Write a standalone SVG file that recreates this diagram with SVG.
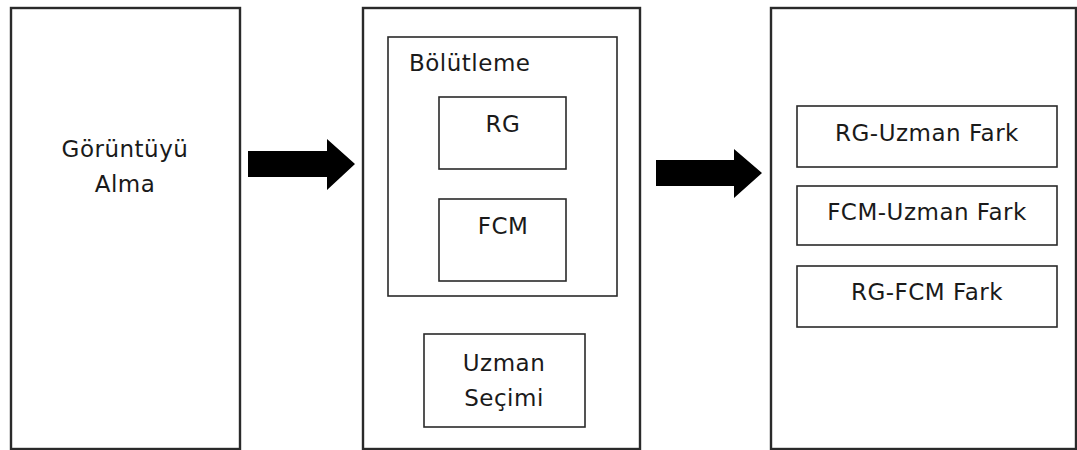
<svg xmlns="http://www.w3.org/2000/svg" width="1077" height="450" viewBox="0 0 1077 450">
  <style>
    .box { fill: #ffffff; stroke: #2a2a2a; stroke-width: 2.4; }
    .inner { fill: #ffffff; stroke: #2a2a2a; stroke-width: 1.6; }
    .label { font-family: "DejaVu Sans", Verdana, sans-serif; font-size: 23px; letter-spacing: 0.5px; fill: #1a1a1a; }
    .mid { text-anchor: middle; }
    .arrow { fill: #000000; }
  </style>
  <rect x="0" y="0" width="1077" height="450" fill="#ffffff"/>

  <!-- Stage 1: image acquisition -->
  <g id="goruntu-alma">
    <rect class="box" x="11" y="8" width="229" height="441"/>
    <text class="label mid" x="125" y="157">Görüntüyü</text>
    <text class="label mid" x="125" y="192">Alma</text>
  </g>

  <!-- Stage 2: segmentation and expert selection -->
  <g id="asama-2">
    <rect class="box" x="363" y="8" width="277" height="441"/>
  </g>
  <g id="bolutleme">
    <rect class="inner" x="388" y="37" width="229" height="259"/>
    <text class="label" x="409" y="71">Bölütleme</text>
  </g>
  <g id="rg">
    <rect class="inner" x="439" y="97" width="127" height="72"/>
    <text class="label mid" x="503" y="132">RG</text>
  </g>
  <g id="fcm">
    <rect class="inner" x="439" y="199" width="127" height="82"/>
    <text class="label mid" x="503" y="234">FCM</text>
  </g>
  <g id="uzman-secimi">
    <rect class="inner" x="424" y="334" width="161" height="93"/>
    <text class="label mid" x="504" y="371">Uzman</text>
    <text class="label mid" x="504" y="406">Seçimi</text>
  </g>

  <!-- Stage 3: differences -->
  <g id="asama-3">
    <rect class="box" x="771" y="8" width="305" height="441"/>
  </g>
  <g id="rg-uzman-fark">
    <rect class="inner" x="797" y="106" width="260" height="61"/>
    <text class="label mid" x="927" y="141">RG-Uzman Fark</text>
  </g>
  <g id="fcm-uzman-fark">
    <rect class="inner" x="797" y="186" width="260" height="59"/>
    <text class="label mid" x="927" y="220">FCM-Uzman Fark</text>
  </g>
  <g id="rg-fcm-fark">
    <rect class="inner" x="797" y="266" width="260" height="61"/>
    <text class="label mid" x="927" y="300">RG-FCM Fark</text>
  </g>

  <!-- Block arrows between stages -->
  <g id="connectors">
    <polygon class="arrow" points="248,151 327,151 327,139 355,164 327,190 327,177 248,177"/>
    <polygon class="arrow" points="656,160 734,160 734,149 762,173 734,198 734,186 656,186"/>
  </g>
</svg>
